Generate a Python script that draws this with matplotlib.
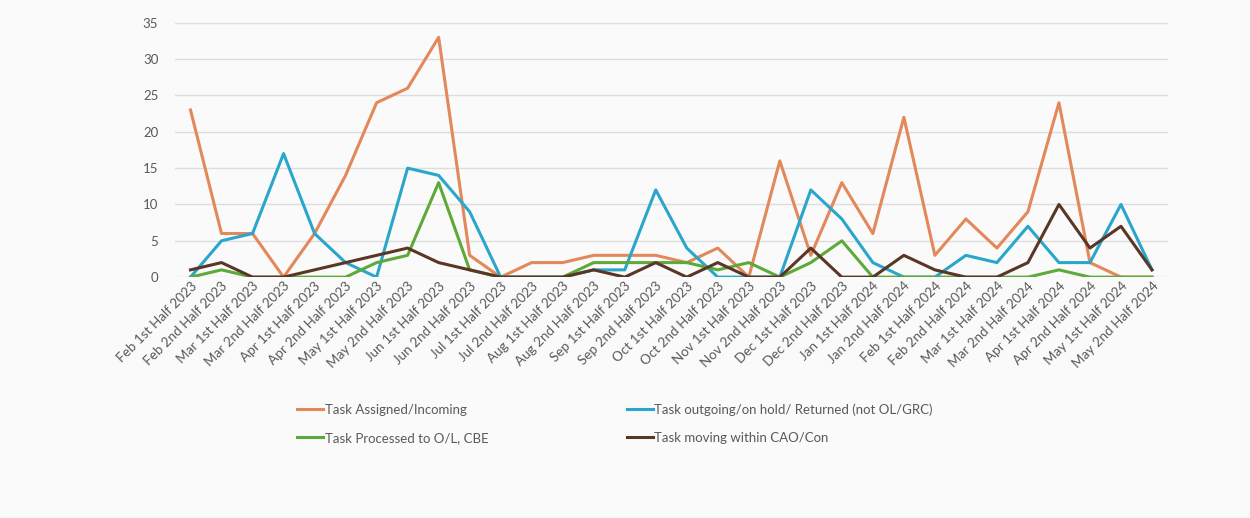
import matplotlib
matplotlib.use('Agg')
import matplotlib.pyplot as plt
from matplotlib.lines import Line2D

months = ['Feb', 'Feb', 'Mar', 'Mar', 'Apr', 'Apr', 'May', 'May', 'Jun', 'Jun', 'Jul', 'Jul',
          'Aug', 'Aug', 'Sep', 'Sep', 'Oct', 'Oct', 'Nov', 'Nov', 'Dec', 'Dec',
          'Jan', 'Jan', 'Feb', 'Feb', 'Mar', 'Mar', 'Apr', 'Apr', 'May', 'May']
halves = ['1st', '2nd'] * 16
years = ['2023'] * 22 + ['2024'] * 10
categories = [f'{m} {h} Half {y}' for m, h, y in zip(months, halves, years)]

assigned = [23, 6, 6, 0, 6, 14, 24, 26, 33, 3, 0, 2, 2, 3, 3, 3, 2, 4, 0, 16, 3, 13,
            6, 22, 3, 8, 4, 9, 24, 2, 0, 0]
outgoing = [0, 5, 6, 17, 6, 2, 0, 15, 14, 9, 0, 0, 0, 1, 1, 12, 4, 0, 0, 0, 12, 8,
            2, 0, 0, 3, 2, 7, 2, 2, 10, 1]
processed = [0, 1, 0, 0, 0, 0, 2, 3, 13, 1, 0, 0, 0, 2, 2, 2, 2, 1, 2, 0, 2, 5,
             0, 0, 0, 0, 0, 0, 1, 0, 0, 0]
moving = [1, 2, 0, 0, 1, 2, 3, 4, 2, 1, 0, 0, 0, 1, 0, 2, 0, 2, 0, 0, 4, 0,
          0, 3, 1, 0, 0, 2, 10, 4, 7, 1]

labels = ['Task Assigned/Incoming', 'Task outgoing/on hold/ Returned (not OL/GRC)',
          'Task Processed to O/L, CBE', 'Task moving within CAO/Con']
colors = ['#E2885A', '#2AA6CC', '#5DAA3A', '#5A3626']

plt.rcParams['font.family'] = ['Lato', 'DejaVu Sans']

fig = plt.figure(figsize=(12.5, 5.18), dpi=100, facecolor='#FAFAFA')
ax = fig.add_axes([0.14, 0.465, 0.794, 0.491])
ax.set_facecolor('#FAFAFA')

x = list(range(len(categories)))
series = [assigned, outgoing, processed, moving]
for k, vals in enumerate(series):
    ax.plot(x, vals, color=colors[k], lw=2.2, zorder=3 + k)

ax.set_xlim(-0.5, len(categories) - 0.5)
ax.set_ylim(0, 35)
ax.set_yticks(range(0, 36, 5))
ax.grid(axis='y', color='#DDDDDD', lw=1)
ax.set_axisbelow(True)
for s in ax.spines.values():
    s.set_visible(False)
ax.tick_params(length=0, colors='#595959', labelsize=9.5)
ax.tick_params(axis='y', pad=12)
ax.tick_params(axis='x', pad=2)
ax.set_xticks(x)
ax.set_xticklabels(categories, rotation=45, ha='right', rotation_mode='anchor', fontsize=9.7)

# legend: row 1 assigned / outgoing, row 2 processed / moving
handles = [Line2D([], [], color=c, lw=2.2) for c in colors]
order = [0, 2, 1, 3]
fig.legend([handles[i] for i in order], [labels[i] for i in order], ncol=2,
           loc='upper left', bbox_to_anchor=(0.228, 0.245), frameon=False,
           fontsize=9.5, handlelength=2.0, handletextpad=0.1, columnspacing=10.5,
           labelspacing=1.25, labelcolor='#595959')

plt.savefig('out.png', dpi=100, facecolor=fig.get_facecolor())
